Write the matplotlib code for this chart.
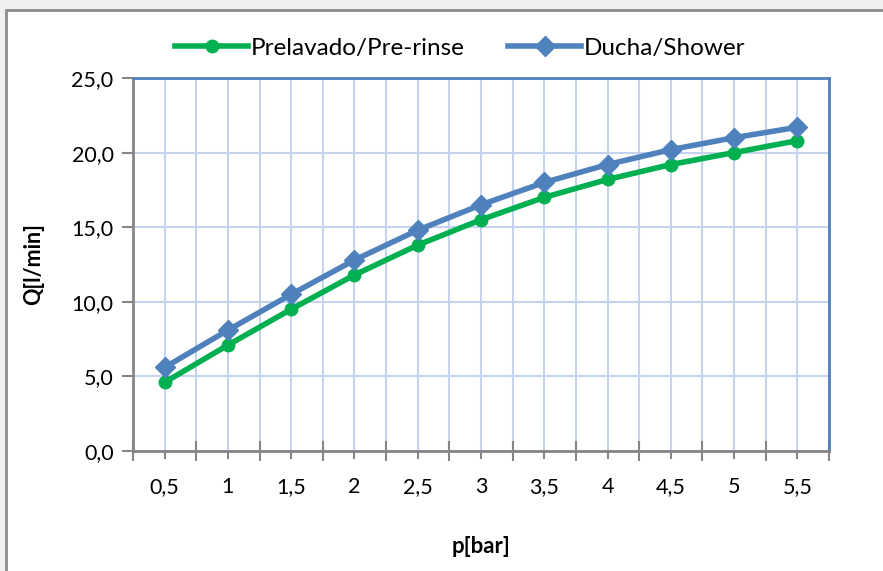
import matplotlib
matplotlib.use("Agg")
import matplotlib.pyplot as plt
from matplotlib.patches import Rectangle
from matplotlib.ticker import FixedLocator, NullFormatter

# --- data ---
pressure = ["0,5", "1", "1,5", "2", "2,5", "3", "3,5", "4", "4,5", "5", "5,5"]
prelavado = [4.6, 7.1, 9.5, 11.8, 13.8, 15.5, 17.0, 18.2, 19.2, 20.0, 20.8]
ducha = [5.6, 8.1, 10.5, 12.8, 14.8, 16.5, 18.0, 19.2, 20.2, 21.0, 21.7]
y_ticks = [0, 5, 10, 15, 20, 25]

plt.rcParams['font.family'] = ['Lato', 'DejaVu Sans']

green = '#00b050'
blue = '#4f81bd'
grid_col = '#c5d3ee'
axis_gray = '#868686'

fig = plt.figure(figsize=(8.83, 5.71), dpi=100)
fig.patch.set_facecolor('#f0f0f0')
fig.patches.append(Rectangle((6 / 883, -0.1), 1.2, 1 - 10 / 571 + 0.1,
                             transform=fig.transFigure, facecolor='white',
                             edgecolor='#8c8c8c', linewidth=2, zorder=-5))

ax = fig.add_axes([133 / 883, 1 - 451 / 571, (829 - 133) / 883, (451 - 78) / 571])
ax.set_facecolor('white')

x = list(range(len(pressure)))
ax.plot(x, prelavado, color=green, linewidth=4, marker='o', markersize=9,
        label='Prelavado/Pre-rinse', zorder=3, clip_on=False)
ax.plot(x, ducha, color=blue, linewidth=4, marker='D', markersize=10.5,
        label='Ducha/Shower', zorder=4, clip_on=False)

ax.set_xlim(-0.5, len(pressure) - 0.5)
ax.set_ylim(0, 25)

# category axis: boundaries as major ticks, centers carry labels
ax.xaxis.set_major_locator(FixedLocator([i - 0.5 for i in range(len(pressure) + 1)]))
ax.xaxis.set_major_formatter(NullFormatter())
ax.xaxis.set_minor_locator(FixedLocator(x))
ax.set_xticklabels(pressure, minor=True)
ax.tick_params(axis='x', which='major', direction='inout', length=14, width=1.5, color=axis_gray)
ax.tick_params(axis='x', which='minor', direction='out', length=6, width=1.5, color=axis_gray,
               labelsize=15.5, pad=13)

ax.set_yticks(y_ticks)
ax.set_yticklabels([f"{v:.1f}".replace('.', ',') for v in y_ticks])
ax.tick_params(axis='y', direction='out', length=8, width=1.5, color=axis_gray, labelsize=15.5, pad=6)

ax.grid(True, which='both', axis='x', color=grid_col, linewidth=1.5)
ax.grid(True, which='major', axis='y', color=grid_col, linewidth=1.5)
ax.set_axisbelow(True)

for side in ['left', 'bottom']:
    ax.spines[side].set_color(axis_gray)
    ax.spines[side].set_linewidth(2)
for side in ['top', 'right']:
    ax.spines[side].set_color(blue)
    ax.spines[side].set_linewidth(2)

ax.set_xlabel('p[bar]', fontsize=16, fontweight='bold', labelpad=28)
ax.set_ylabel('Q[l/min]', fontsize=15.5, fontweight='bold', labelpad=20)

ax.legend(loc='lower center', bbox_to_anchor=(0.47, 1.025), ncol=2, frameon=False,
          fontsize=17.5, handlelength=3.0, handletextpad=0.1, columnspacing=1.8,
          borderaxespad=0)

fig.savefig('out.png', dpi=100, facecolor=fig.get_facecolor())
